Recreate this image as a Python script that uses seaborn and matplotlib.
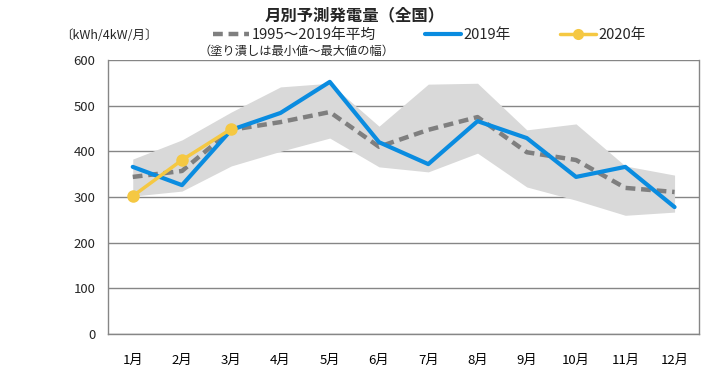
import matplotlib
matplotlib.use("Agg")
import matplotlib.pyplot as plt
import seaborn as sns
import numpy as np
from matplotlib.lines import Line2D

# --- data ---
months = ["1月", "2月", "3月", "4月", "5月", "6月", "7月", "8月", "9月", "10月", "11月", "12月"]
avg_1995_2019 = [344, 357, 447, 464, 486, 410, 447, 475, 398, 381, 320, 311]
band_max = [383, 425, 486, 541, 549, 455, 547, 549, 447, 460, 368, 348]
band_min = [302, 313, 368, 400, 429, 366, 355, 396, 322, 293, 260, 267]
y2019 = [366, 326, 447, 484, 552, 420, 372, 466, 429, 344, 366, 278]
y2020 = [302, 381, 449]

sns.set_theme(style="white")
plt.rcParams["font.family"] = ["Noto Sans CJK JP", "DejaVu Sans"]

c_avg = "#7f7f7f"
c_band = "#d9d9d9"
c_2019 = "#0a8ce0"
c_2020 = "#f5c842"

fig = plt.figure(figsize=(7.02, 3.70), dpi=100)
ax = fig.add_axes([0.154, 0.097, 0.842, 0.741])

x = np.arange(len(months))
ax.fill_between(x, band_min, band_max, color=c_band, lw=0, zorder=1)
sns.lineplot(x=x, y=avg_1995_2019, ax=ax, color=c_avg, lw=3.2,
             linestyle=(0, (2.2, 1.3)), zorder=3)
sns.lineplot(x=x, y=y2019, ax=ax, color=c_2019, lw=3, zorder=4)
sns.lineplot(x=x[:len(y2020)], y=y2020, ax=ax, color=c_2020, lw=2.5,
             marker="o", markersize=9, markeredgewidth=0, zorder=5)

ax.set_xlim(-0.5, len(months) - 0.5)
ax.set_ylim(0, 600)
ax.set_yticks(range(0, 601, 100))
ax.set_xticks(x)
ax.set_xticklabels(months)
ax.set_xticks(np.arange(-0.5, len(months), 1), minor=True)
ax.tick_params(axis="x", which="major", length=0, pad=14, labelsize=9.5, colors="#000000")
ax.tick_params(axis="x", which="minor", length=5, width=1, color="#868686", direction="out")
ax.tick_params(axis="y", length=5, width=1, color="#868686", direction="out", labelsize=9.5, pad=4)
ax.yaxis.grid(True, color="#868686", lw=1)
ax.set_axisbelow(True)
ax.spines["top"].set_visible(False)
for side in ["left", "bottom", "right"]:
    ax.spines[side].set_color("#868686")
    ax.spines[side].set_linewidth(1)
ax.set_xlabel("")
ax.set_ylabel("")

fig.text(0.505, 0.958, "月別予測発電量（全国）", ha="center", va="center",
         fontsize=11.8, fontweight="bold")
fig.text(0.155, 0.905, "〔kWh/4kW/月〕", ha="center", va="center", fontsize=9)

handles = [
    Line2D([], [], color=c_avg, lw=3.2, linestyle=(0, (2.2, 1.3))),
    Line2D([], [], color=c_2019, lw=3),
    Line2D([], [], color=c_2020, lw=2.5, marker="o", markersize=8, markeredgewidth=0),
]
labels = ["1995～2019年平均", "2019年", "2020年"]
fig.legend(handles, labels, loc="center", bbox_to_anchor=(0.612, 0.905), ncol=3,
           frameon=False, fontsize=10.6, handlelength=2.45, handletextpad=0.2,
           columnspacing=3.3)
fig.text(0.423, 0.86, "（塗り潰しは最小値～最大値の幅）", ha="center", va="center", fontsize=8.8)

fig.savefig("out.png", dpi=100)
